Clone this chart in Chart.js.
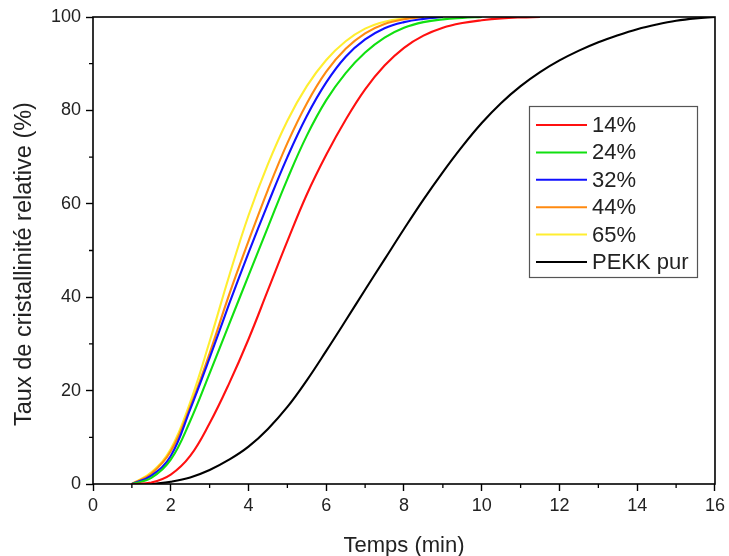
<!DOCTYPE html>
<html><head><meta charset="utf-8">
<script src="https://cdn.jsdelivr.net/npm/chart.js@4/dist/chart.umd.min.js"></script>
<style>html,body{margin:0;padding:0;background:#fff;}#wrap{width:729px;height:556px;}</style>
</head><body><div id="wrap"><canvas id="c" width="729" height="556"></canvas></div>
<script>
// time axes (min)
const timeComposites = [1,1.5,2,2.5,3,3.5,4,4.5,5,5.5,6,6.5,7,7.5,8,8.5,9,9.5,10,10.5,11,11.5];
const timePekk = [1.5,2,2.5,3,3.5,4,4.5,5,5.5,6,6.5,7,7.5,8,8.5,9,9.5,10,10.5,11,11.5,12,12.5,13,13.5,14,14.5,15,15.5,16];
// relative crystallinity (%)
const values14 = [0,0.3,2.0,6.0,13,21.5,31,41.5,52,62,70.5,78,84.5,89.6,93.4,96.0,97.7,98.7,99.3,99.7,99.9,100];
const values24 = [0,1.3,5.2,13.5,23.7,34.2,44.6,55,65.3,74.6,82.2,88,92.4,95.6,97.7,98.9,99.5,99.8,100];
const values32 = [0,1.8,6,16,27,38.5,49.5,60,70,78.8,86,91.5,95.2,97.6,98.9,99.6,100];
const values44 = [0,2.2,7,16.5,28,40.5,52,63,73,81.5,88.3,93.2,96.5,98.5,99.5,100];
const values65 = [0,2.5,7.5,17.5,30.5,44.5,57.5,68.5,77.8,85.2,90.8,94.8,97.5,99.0,99.7,100];
const valuesPekk = [0,0.5,1.4,3.0,5.2,8.0,11.8,16.5,22.2,28.5,35.0,41.6,48.1,54.6,60.9,66.8,72.3,77.3,81.6,85.2,88.2,90.7,92.8,94.6,96.1,97.4,98.4,99.2,99.7,100];
const seriesLabels = ['14%','24%','32%','44%','65%','PEKK pur'];
const seriesColors = ['#ff1010','#10e010','#1010ff','#ff8a10','#ffee30','#000000'];
const xMajorTicks = [0,2,4,6,8,10,12,14,16];
const xMinorTicks = [1,3,5,7,9,11,13,15];
const yMajorTicks = [0,20,40,60,80,100];
const yMinorTicks = [10,30,50,70,90];
const xTitle = 'Temps (min)';
const yTitle = 'Taux de cristallinité relative (%)';

const FONT = '"Liberation Sans", Arial, sans-serif';
function toPoints(times, vals){ return vals.map((v,i)=>({x:times[i], y:v})); }
const allValues = [values14, values24, values32, values44, values65, valuesPekk];
const datasets = allValues.map((vals,i)=>({
  label: seriesLabels[i],
  data: toPoints(i===5 ? timePekk : timeComposites, vals),
  borderColor: seriesColors[i],
  backgroundColor: seriesColors[i],
  borderWidth: 2.1,
  pointRadius: 0,
  tension: 0.4,
  fill: false
}));

const framePlugin = {
  id: 'frame',
  afterDatasetsDraw(chart){
    const {ctx, chartArea:a, scales:{x, y}} = chart;
    ctx.save();
    ctx.strokeStyle = '#000'; ctx.lineWidth = 1.6;
    ctx.strokeRect(a.left, a.top, a.right - a.left, a.bottom - a.top);
    ctx.lineWidth = 1.3;
    ctx.beginPath();
    xMinorTicks.forEach(t=>{ const px = x.getPixelForValue(t); ctx.moveTo(px, a.bottom); ctx.lineTo(px, a.bottom + 4); });
    yMinorTicks.forEach(t=>{ const py = y.getPixelForValue(t); ctx.moveTo(a.left, py); ctx.lineTo(a.left - 4, py); });
    ctx.stroke();
    // y axis title
    ctx.fillStyle = '#222';
    ctx.font = '23.5px ' + FONT;
    ctx.textAlign = 'center'; ctx.textBaseline = 'middle';
    ctx.translate(25, 264);
    ctx.rotate(-Math.PI/2);
    ctx.fillText(yTitle, 0, 0);
    ctx.restore();
  }
};
const legendPlugin = {
  id: 'boxLegend',
  afterDraw(chart){
    const ctx = chart.ctx;
    ctx.save();
    ctx.fillStyle = '#fff';
    ctx.fillRect(529.5, 106.5, 168, 171);
    ctx.strokeStyle = '#555'; ctx.lineWidth = 1.2;
    ctx.strokeRect(529.5, 106.5, 168, 171);
    ctx.font = '22px ' + FONT;
    ctx.textBaseline = 'middle';
    chart.data.datasets.forEach((ds,i)=>{
      const yy = 125 + i*27.4;
      ctx.strokeStyle = ds.borderColor; ctx.lineWidth = 2;
      ctx.beginPath(); ctx.moveTo(536, yy); ctx.lineTo(587, yy); ctx.stroke();
      ctx.fillStyle = '#222';
      ctx.fillText(ds.label, 592, yy + 1);
    });
    ctx.restore();
  }
};

new Chart(document.getElementById('c'), {
  type: 'line',
  data: { datasets },
  options: {
    responsive: false, animation: false, devicePixelRatio: 1,
    layout: { padding: { left: 0, right: 12, top: 17, bottom: 0 } },
    plugins: { legend: { display: false }, tooltip: { enabled: false } },
    scales: {
      x: {
        type: 'linear', min: 0, max: 16,
        afterBuildTicks: s => { s.ticks = xMajorTicks.map(v=>({value:v})); },
        afterFit: s => { s.height = 72; },
        grid: { drawOnChartArea: false, drawTicks: true, tickLength: 7, tickColor: '#000', tickWidth: 1.4 },
        border: { display: false },
        ticks: { color: '#222', font: { family: FONT, size: 18 }, padding: 4, maxRotation: 0 },
        title: { display: true, text: xTitle, color: '#222', font: { family: FONT, size: 22 }, padding: { top: 0, bottom: -3 } }
      },
      y: {
        type: 'linear', min: 0, max: 100,
        afterBuildTicks: s => { s.ticks = yMajorTicks.map(v=>({value:v})); },
        afterFit: s => { s.width = 93; },
        grid: { drawOnChartArea: false, drawTicks: true, tickLength: 7, tickColor: '#000', tickWidth: 1.4 },
        border: { display: false },
        ticks: { color: '#222', font: { family: FONT, size: 18 }, padding: 5 },
        title: { display: false }
      }
    }
  },
  plugins: [framePlugin, legendPlugin]
});
</script></body></html>
